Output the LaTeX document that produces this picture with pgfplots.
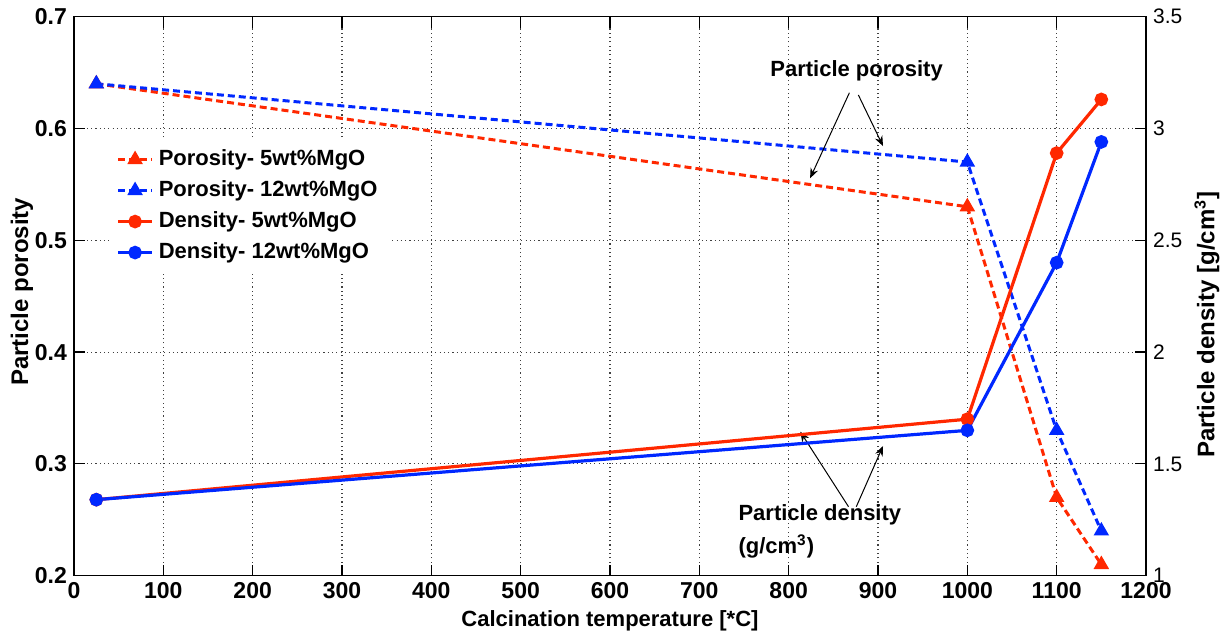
\documentclass[border=0pt]{standalone}
\usepackage{fontspec}
\setmainfont{Liberation Sans}
\usepackage{pgfplots}
\pgfplotsset{compat=1.18}
\usetikzlibrary{arrows.meta}
\definecolor{myred}{RGB}{255,40,0}
\definecolor{myblue}{RGB}{0,40,255}
\pgfplotsset{
  por/.style={line width=1.5pt, dash pattern=on 3.5pt off 2pt, mark=triangle*, mark size=3pt, mark options={solid}},
  den/.style={line width=1.6pt, solid, mark=*, mark size=2.6pt},
}
\begin{document}
\begin{tikzpicture}[font=\fontsize{11}{13}\selectfont\bfseries]
\useasboundingbox (-37pt,-32.5pt) rectangle (578.5pt,287.85pt);
\begin{axis}[
  at={(0,0)}, anchor=south west,
  scale only axis, width=536pt, height=279.5pt,
  xmin=0, xmax=1200, ymin=0.2, ymax=0.7,
  xtick={0,100,200,300,400,500,600,700,800,900,1000,1100,1200},
  ytick={0.2,0.3,0.4,0.5,0.6,0.7},
  xtick pos=both, ytick pos=left,
  tick align=inside, major tick length=5.5pt,
  tick style={black, line width=0.6pt},
  axis line style={black, line width=0.75pt},
  grid=major,
  major grid style={black!75, line width=0.55pt, dash pattern=on 0.55pt off 1.6pt},
  /pgf/number format/assume math mode=true,
  tick label style={font=\fontsize{11.5}{13}\selectfont\bfseries},
  yticklabel style={/pgf/number format/.cd, fixed, precision=1, fixed zerofill},
  xticklabel style={/pgf/number format/.cd, 1000 sep={}},
  xlabel={Calcination temperature [*C]},
  ylabel={Particle porosity},
  every axis x label/.style={at={(axis description cs:0.5,-0.0805)}, anchor=center},
  every axis y label/.style={at={(axis description cs:-0.0485,0.508)}, anchor=center, rotate=90, font=\fontsize{12}{14}\selectfont\bfseries},
  clip=false,
]
\addplot[por, color=myred] coordinates {(25,0.64) (1000,0.53) (1100,0.27) (1150,0.21)};
\addplot[por, color=myblue] coordinates {(25,0.64) (1000,0.57) (1100,0.33) (1150,0.24)};
\node at (axis cs:876,0.652) {Particle porosity};
\draw[line width=0.5pt, -{Stealth[length=5pt,width=4pt]}] (axis cs:868,0.632) -- (axis cs:824,0.5555);
\draw[line width=0.5pt, -{Stealth[length=5pt,width=4pt]}] (axis cs:878,0.630) -- (axis cs:905.6,0.5843);
\node[anchor=west] at (axis cs:736,0.2543) {Particle density};
\node[anchor=west] at (axis cs:736,0.226) {(g/cm\textsuperscript{3})};
\draw[line width=0.5pt, -{Stealth[length=5pt,width=4pt]}] (axis cs:867,0.2617) -- (axis cs:813,0.3288);
\draw[line width=0.5pt, -{Stealth[length=5pt,width=4pt]}] (axis cs:875.7,0.2617) -- (axis cs:905.6,0.316);
\end{axis}
\begin{axis}[
  at={(0,0)}, anchor=south west,
  scale only axis, width=536pt, height=279.5pt,
  xmin=0, xmax=1200, ymin=1, ymax=3.5,
  axis x line=none, axis y line*=right,
  ytick={1,1.5,2,2.5,3,3.5},
  tick align=inside, major tick length=5.5pt,
  tick style={black, line width=0.6pt},
  axis line style={black, line width=0.75pt, -},
  /pgf/number format/assume math mode=true,
  yticklabel style={font=\fontsize{10.5}{12}\selectfont\mdseries},
  ylabel={Particle density [g/cm\textsuperscript{3}]},
  every axis y label/.style={at={(axis description cs:1.0569,0.449)}, anchor=center, rotate=90, font=\fontsize{12}{14}\selectfont\bfseries},
  legend style={at={(axis description cs:0.0336,0.78)}, anchor=north west, draw=none, fill=white,
    nodes={text height=8pt, text depth=2.5pt, inner sep=2.5pt, anchor=west}},
  legend cell align=left,
]
\addlegendimage{por, color=myred}
\addlegendentry{Porosity- 5wt\%MgO}
\addlegendimage{por, color=myblue}
\addlegendentry{Porosity- 12wt\%MgO}
\addplot[den, color=myred] coordinates {(25,1.34) (1000,1.70) (1100,2.89) (1150,3.13)};
\addlegendentry{Density- 5wt\%MgO}
\addplot[den, color=myblue] coordinates {(25,1.34) (1000,1.65) (1100,2.40) (1150,2.94)};
\addlegendentry{Density- 12wt\%MgO}
\end{axis}
\end{tikzpicture}
\end{document}
